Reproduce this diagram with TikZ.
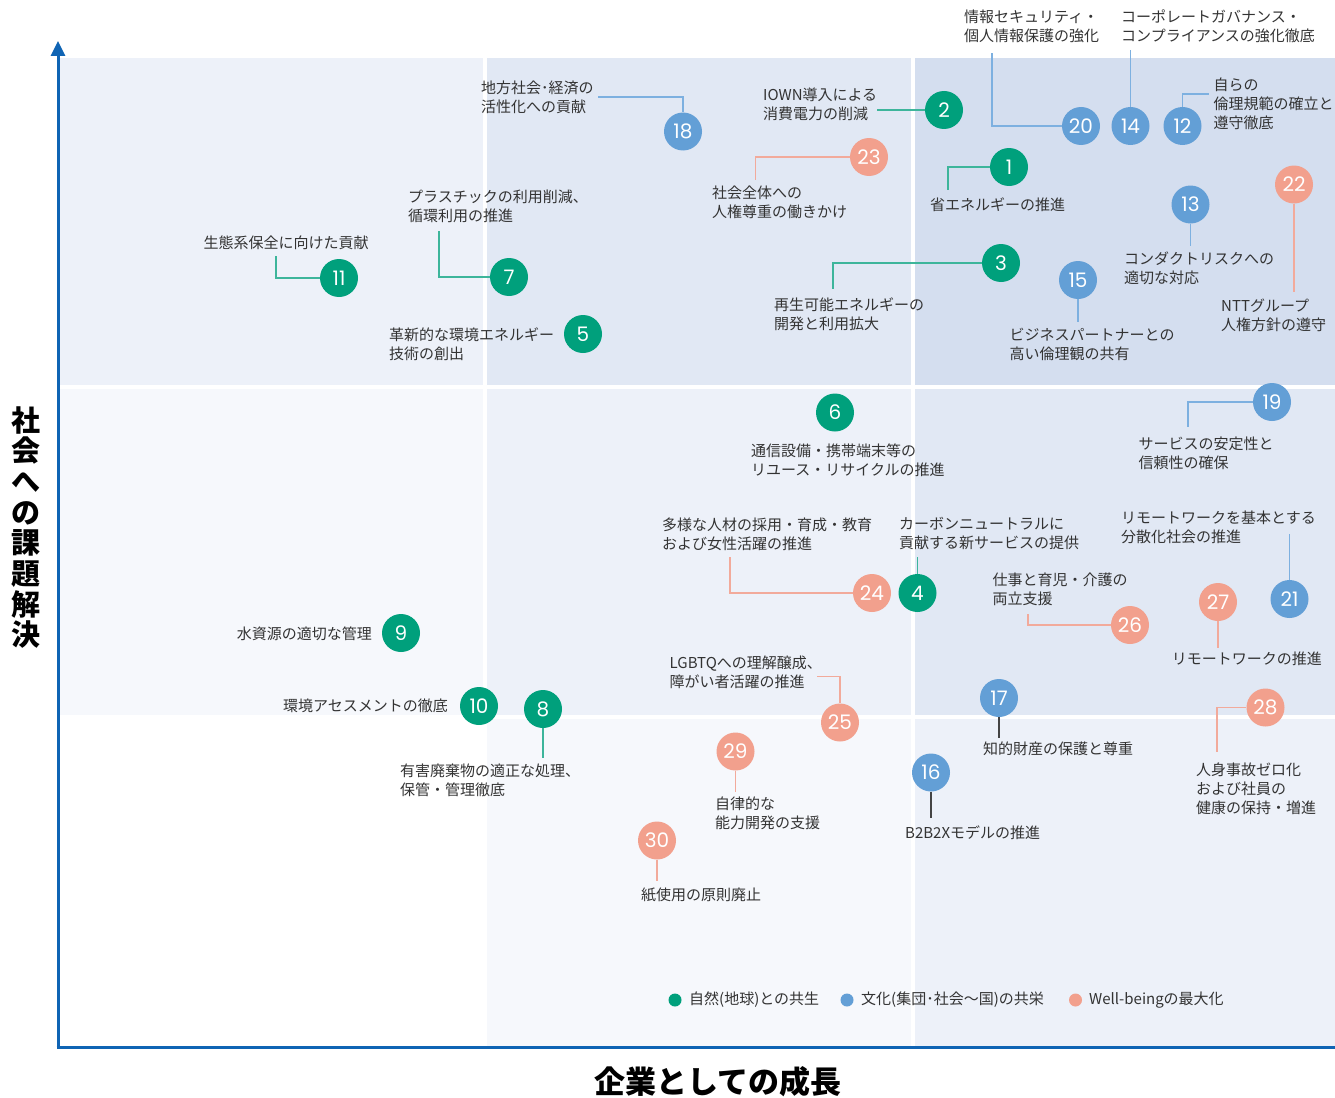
\documentclass[tikz,border=0pt]{standalone}
\usepackage{fontspec}
\setmainfont{Noto Sans CJK JP}
\newfontfamily\numfont{Poppins}
\usetikzlibrary{arrows.meta}
\definecolor{cg}{HTML}{00A07C}
\definecolor{cb}{HTML}{639FD6}
\definecolor{cs}{HTML}{F2A08D}
\definecolor{cgl}{HTML}{3DB59B}
\definecolor{cbl}{HTML}{7DB0E0}
\definecolor{csl}{HTML}{F2AA9B}
\definecolor{ck}{HTML}{444444}
\definecolor{txt}{HTML}{333333}
\definecolor{axisblue}{HTML}{0F64B4}
\definecolor{bg1}{HTML}{F6F8FC}
\definecolor{bg2}{HTML}{EDF1F9}
\definecolor{bg3}{HTML}{E1E8F4}
\definecolor{bg4}{HTML}{D4DEEF}
\tikzset{
  num/.style={circle, minimum size=38pt, inner sep=0pt, text=white, font=\numfont\fontsize{20}{20}\selectfont},
  ng/.style={num, fill=cg},
  nb/.style={num, fill=cb},
  ns/.style={num, fill=cs},
  lab/.style={font=\fontsize{15}{19}\selectfont, text=txt, align=left, inner sep=0pt, anchor=west},
  labr/.style={lab, anchor=east, align=right},
  lg/.style={draw=cgl, line width=1.2pt},
  lb/.style={draw=cbl, line width=1.2pt},
  ls/.style={draw=csl, line width=1.2pt},
  lk/.style={draw=ck, line width=1.2pt},
  axisline/.style={draw=axisblue, line width=3pt},
  legdot/.style={circle, minimum size=13pt, inner sep=0pt},
  legtext/.style={font=\fontsize{15}{19}\selectfont, text=txt, inner sep=0pt, anchor=west}
}
\begin{document}
\begin{tikzpicture}[x=1pt,y=-1pt]
\useasboundingbox (0,0) rectangle (1335,1097);
% background cells
\fill[bg2] (59,58) rectangle (483,385);
\fill[bg3] (487,58) rectangle (911,385);
\fill[bg4] (915,58) rectangle (1335,385);
\fill[bg1] (59,389) rectangle (483,715);
\fill[bg2] (487,389) rectangle (911,715);
\fill[bg3] (915,389) rectangle (1335,715);
\fill[white] (59,719) rectangle (483,1046);
\fill[bg1] (487,719) rectangle (911,1046);
\fill[bg2] (915,719) rectangle (1335,1046);
% axes
\coordinate (O) at (58,1047);
\coordinate (Ytip) at (58,41);
\coordinate (Xend) at (1335,1047);
\draw[axisline, -{Triangle[length=15pt,width=14pt]}] (O) -- (Ytip);
\draw[axisline] (56.5,1047) -- (Xend);
\node[font=\bfseries\fontsize{29}{30.7}\selectfont, align=center, inner sep=0pt, text=black] (ylab) at (26,527.5) {社\\会\\へ\\の\\課\\題\\解\\決};
\node[font=\bfseries\fontsize{31}{31}\selectfont, inner sep=0pt, text=black] (xlab) at (718,1082) {企業としての成長};

% circles
\node[ng] (n1) at (1009,167) {1};
\node[ng] (n2) at (944,110) {2};
\node[ng] (n3) at (1001,263) {3};
\node[ng] (n4) at (917.5,593) {4};
\node[ng] (n5) at (583,334) {5};
\node[ng] (n6) at (835,412.5) {6};
\node[ng] (n7) at (509,277) {7};
\node[ng] (n8) at (543,709) {8};
\node[ng] (n9) at (401,633) {9};
\node[ng] (n10) at (479,706) {10};
\node[ng] (n11) at (339,278) {11};
\node[nb] (n12) at (1182.5,126) {12};
\node[nb] (n13) at (1190.5,204.5) {13};
\node[nb] (n14) at (1130.5,126) {14};
\node[nb] (n15) at (1078,280) {15};
\node[nb] (n16) at (931,772.5) {16};
\node[nb] (n17) at (999,698) {17};
\node[nb] (n18) at (683,131.5) {18};
\node[nb] (n19) at (1272,402) {19};
\node[nb] (n20) at (1081,126) {20};
\node[nb] (n21) at (1289.5,599) {21};
\node[ns] (n22) at (1294,184.5) {22};
\node[ns] (n23) at (869,157) {23};
\node[ns] (n24) at (872,593) {24};
\node[ns] (n25) at (840,722.5) {25};
\node[ns] (n26) at (1130,625) {26};
\node[ns] (n27) at (1218,602) {27};
\node[ns] (n28) at (1265.5,707.5) {28};
\node[ns] (n29) at (735.5,751.5) {29};
\node[ns] (n30) at (657,840.5) {30};

% labels
\node[lab] (t1) at (930,205) {省エネルギーの推進};
\node[lab] (t2) at (763,104) {IOWN導入による\\消費電力の削減};
\node[lab] (t3) at (774,314) {再生可能エネルギーの\\開発と利用拡大};
\node[lab] (t4) at (899,533.5) {カーボンニュートラルに\\貢献する新サービスの提供};
\node[lab] (t5) at (389,344) {革新的な環境エネルギー\\技術の創出};
\node[lab] (t6) at (751,460.5) {通信設備・携帯端末等の\\リユース・リサイクルの推進};
\node[lab] (t7) at (408,206.5) {プラスチックの利用削減、\\循環利用の推進};
\node[lab] (t8) at (400,780) {有害廃棄物の適正な処理、\\保管・管理徹底};
\node[labr] (t9) at (372,634) {水資源の適切な管理};
\node[labr] (t10) at (448,706) {環境アセスメントの徹底};
\node[lab] (t11) at (203.5,243) {生態系保全に向けた貢献};
\node[lab] (t12) at (1213.5,104) {自らの\\倫理規範の確立と\\遵守徹底};
\node[lab] (t13) at (1124,268) {コンダクトリスクへの\\適切な対応};
\node[lab] (t14) at (1121,26) {コーポレートガバナンス・\\コンプライアンスの強化徹底};
\node[lab] (t15) at (1009.5,344.5) {ビジネスパートナーとの\\高い倫理観の共有};
\node[lab] (t16) at (905,833) {B2B2Xモデルの推進};
\node[lab] (t17) at (983,749) {知的財産の保護と尊重};
\node[lab] (t18) at (481,97) {地方社会･経済の\\活性化への貢献};
\node[lab] (t19) at (1138.5,453) {サービスの安定性と\\信頼性の確保};
\node[lab] (t20) at (964,26) {情報セキュリティ・\\個人情報保護の強化};
\node[lab] (t21) at (1121,527) {リモートワークを基本とする\\分散化社会の推進};
\node[lab] (t22) at (1221,315.5) {NTTグループ\\人権方針の遵守};
\node[lab] (t23) at (712,202.5) {社会全体への\\人権尊重の働きかけ};
\node[lab] (t24) at (662,534) {多様な人材の採用・育成・教育\\および女性活躍の推進};
\node[lab] (t25) at (669.5,672.5) {LGBTQへの理解醸成、\\障がい者活躍の推進};
\node[lab] (t26) at (992.5,589) {仕事と育児・介護の\\両立支援};
\node[lab] (t27) at (1171.7,659) {リモートワークの推進};
\node[lab] (t28) at (1196,789) {人身事故ゼロ化\\および社員の\\健康の保持・増進};
\node[lab] (t29) at (715,813.5) {自律的な\\能力開発の支援};
\node[lab] (t30) at (641,895) {紙使用の原則廃止};

% connector ends
\coordinate (c1) at (948,190);
\coordinate (c2) at (877,110);
\coordinate (c3) at (833,289);
\coordinate (c4) at (917.5,557);
\coordinate (c7) at (439,231);
\coordinate (c8) at (543,758);
\coordinate (c11) at (276,256);
\coordinate (c12) at (1209,94);
\coordinate (c13) at (1190.5,246);
\coordinate (c14) at (1130.5,50);
\coordinate (c15) at (1078,322);
\coordinate (c16) at (931,818);
\coordinate (c17) at (999,738);
\coordinate (c18) at (598,97);
\coordinate (c19) at (1188,427);
\coordinate (c20) at (992,53);
\coordinate (c21) at (1289.5,534);
\coordinate (c22) at (1294,292);
\coordinate (c23) at (755.5,180);
\coordinate (c24) at (730,557);
\coordinate (c25) at (817,676.5);
\coordinate (c26) at (1028,614);
\coordinate (c27) at (1218,648);
\coordinate (c28) at (1217,752);
\coordinate (c29) at (735.5,792);
\coordinate (c30) at (657,881);

% connectors
\draw[lg] (n1.west) -| (c1);
\draw[lg] (n2.west) -- (c2);
\draw[lg] (n3.west) -| (c3);
\draw[lg] (n4.north) -- (c4);
\draw[lg] (n7.west) -| (c7);
\draw[lg] (n8.south) -- (c8);
\draw[lg] (n11.west) -| (c11);
\draw[lb] (n12.north) |- (c12);
\draw[lb] (n13.south) -- (c13);
\draw[lb] (n14.north) -- (c14);
\draw[lb] (n15.south) -- (c15);
\draw[lk] (n16.south) -- (c16);
\draw[lk] (n17.south) -- (c17);
\draw[lb] (n18.north) |- (c18);
\draw[lb] (n19.west) -| (c19);
\draw[lb] (n20.west) -| (c20);
\draw[lb] (n21.north) -- (c21);
\draw[ls] (n22.south) -- (c22);
\draw[ls] (n23.west) -| (c23);
\draw[ls] (n24.west) -| (c24);
\draw[ls] (n25.north) |- (c25);
\draw[ls] (n26.west) -| (c26);
\draw[ls] (n27.south) -- (c27);
\draw[ls] (n28.west) -| (c28);
\draw[ls] (n29.south) -- (c29);
\draw[ls] (n30.south) -- (c30);

% legend
\node[legdot, fill=cg] (d1) at (675,1000) {};
\node[legtext] (g1) at (689,1000) {自然(地球)との共生};
\node[legdot, fill=cb] (d2) at (847,1000) {};
\node[legtext] (g2) at (861,1000) {文化(集団･社会〜国)の共栄};
\node[legdot, fill=cs] (d3) at (1075.5,1000) {};
\node[legtext] (g3) at (1089,1000) {Well-beingの最大化};
\end{tikzpicture}
\end{document}
